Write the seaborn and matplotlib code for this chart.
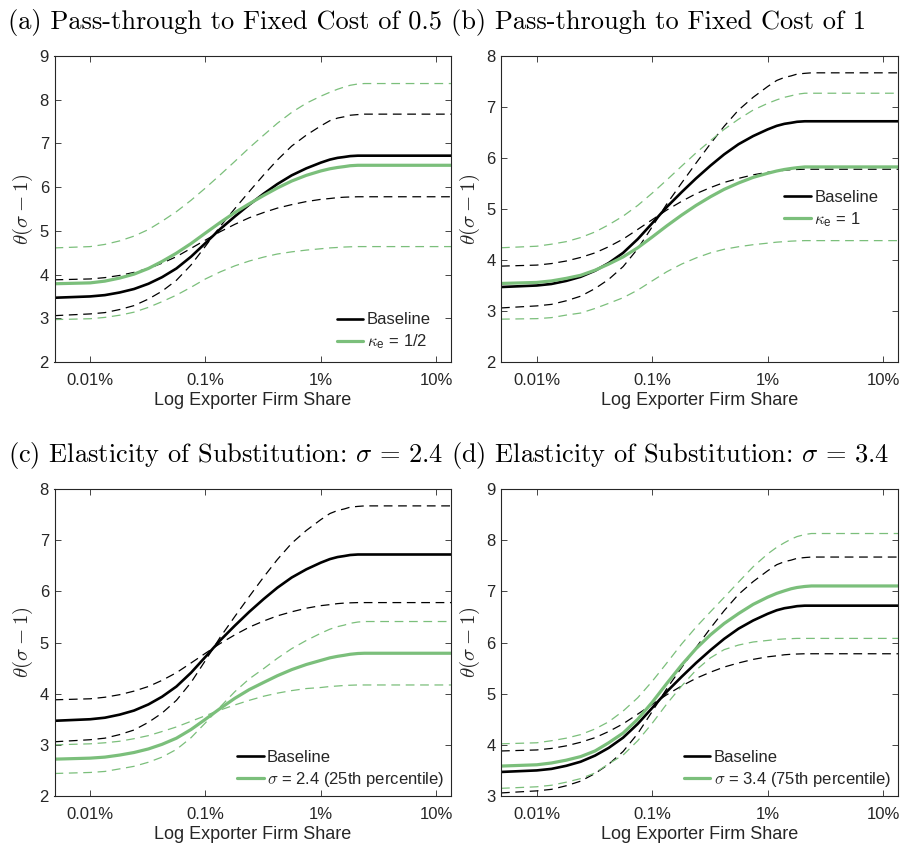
import matplotlib
matplotlib.use("Agg")
import matplotlib.pyplot as plt
from matplotlib.ticker import NullLocator
import seaborn as sns

# Exporter firm share (in percent) at which each curve is tabulated
share_pct = [0.0049, 0.01, 0.0134, 0.018, 0.024, 0.032, 0.042, 0.056, 0.075, 0.1,
             0.134, 0.18, 0.24, 0.32, 0.42, 0.56, 0.75, 1.0, 1.2, 1.4,
             1.6, 1.8, 2.1, 2.4, 13.5]

# Baseline estimate and its confidence band (identical in every panel)
baseline = [3.47, 3.50, 3.53, 3.59, 3.67, 3.79, 3.94, 4.14, 4.41, 4.72,
            5.04, 5.33, 5.60, 5.85, 6.07, 6.27, 6.43, 6.56, 6.63, 6.67,
            6.69, 6.71, 6.72, 6.72, 6.72]
baseline_band_a = [3.88, 3.90, 3.93, 3.98, 4.05, 4.14, 4.26, 4.41, 4.60, 4.79,
                   4.98, 5.15, 5.30, 5.42, 5.52, 5.60, 5.67, 5.72, 5.74, 5.76,
                   5.77, 5.775, 5.78, 5.78, 5.78]
baseline_band_b = [3.06, 3.10, 3.13, 3.20, 3.29, 3.44, 3.62, 3.87, 4.22, 4.65,
                   5.10, 5.51, 5.90, 6.28, 6.62, 6.94, 7.19, 7.40, 7.52, 7.58,
                   7.61, 7.645, 7.66, 7.67, 7.67]

# (a) pass-through to fixed cost of 0.5
kappa_half = [3.79, 3.81, 3.85, 3.92, 4.01, 4.14, 4.30, 4.49, 4.71, 4.95,
              5.19, 5.42, 5.62, 5.81, 5.98, 6.14, 6.27, 6.37, 6.42, 6.45,
              6.47, 6.49, 6.50, 6.50, 6.50]
kappa_half_hi = [4.61, 4.64, 4.69, 4.77, 4.88, 5.03, 5.22, 5.44, 5.70, 5.98,
                 6.28, 6.59, 6.90, 7.19, 7.46, 7.71, 7.92, 8.08, 8.17, 8.24,
                 8.29, 8.33, 8.36, 8.37, 8.37]
kappa_half_lo = [2.97, 2.99, 3.02, 3.07, 3.14, 3.25, 3.38, 3.53, 3.71, 3.90,
                 4.06, 4.20, 4.31, 4.40, 4.47, 4.52, 4.56, 4.59, 4.61, 4.62,
                 4.63, 4.635, 4.64, 4.64, 4.64]

# (b) pass-through to fixed cost of 1
kappa_one = [3.54, 3.56, 3.59, 3.64, 3.70, 3.80, 3.92, 4.06, 4.24, 4.45,
             4.67, 4.88, 5.07, 5.24, 5.385, 5.51, 5.62, 5.70, 5.745, 5.775,
             5.795, 5.81, 5.825, 5.825, 5.825]
kappa_one_hi = [4.24, 4.27, 4.31, 4.36, 4.44, 4.55, 4.69, 4.86, 5.07, 5.31,
                5.57, 5.84, 6.10, 6.34, 6.56, 6.76, 6.94, 7.07, 7.14, 7.19,
                7.22, 7.25, 7.27, 7.27, 7.27]
kappa_one_lo = [2.84, 2.85, 2.87, 2.92, 2.96, 3.05, 3.15, 3.26, 3.41, 3.59,
                3.77, 3.92, 4.04, 4.14, 4.21, 4.26, 4.30, 4.33, 4.35, 4.36,
                4.37, 4.375, 4.38, 4.38, 4.38]

# (c) sigma = 2.4
sigma_low = [2.72, 2.74, 2.76, 2.80, 2.85, 2.92, 3.01, 3.13, 3.30, 3.50,
             3.71, 3.91, 4.08, 4.22, 4.35, 4.47, 4.57, 4.65, 4.70, 4.73,
             4.75, 4.77, 4.785, 4.79, 4.79]
sigma_low_a = [3.00, 3.02, 3.04, 3.07, 3.12, 3.18, 3.26, 3.35, 3.46, 3.57,
               3.68, 3.78, 3.87, 3.95, 4.01, 4.06, 4.10, 4.12, 4.14, 4.15,
               4.16, 4.165, 4.17, 4.17, 4.17]
sigma_low_b = [2.44, 2.46, 2.48, 2.53, 2.58, 2.66, 2.76, 2.91, 3.14, 3.43,
               3.74, 4.04, 4.29, 4.49, 4.69, 4.88, 5.04, 5.18, 5.26, 5.31,
               5.34, 5.375, 5.40, 5.41, 5.41]

# (d) sigma = 3.4
sigma_high = [3.585, 3.61, 3.645, 3.70, 3.77, 3.88, 4.04, 4.23, 4.50, 4.83,
              5.20, 5.56, 5.88, 6.15, 6.37, 6.565, 6.745, 6.885, 6.96, 7.01,
              7.05, 7.075, 7.095, 7.105, 7.105]
sigma_high_hi = [4.02, 4.04, 4.08, 4.13, 4.20, 4.31, 4.45, 4.66, 4.92, 5.24,
                 5.60, 5.97, 6.30, 6.60, 6.88, 7.18, 7.48, 7.73, 7.86, 7.95,
                 8.02, 8.07, 8.11, 8.13, 8.13]
sigma_high_lo = [3.15, 3.18, 3.21, 3.27, 3.34, 3.45, 3.63, 3.80, 4.08, 4.42,
                 4.80, 5.15, 5.46, 5.70, 5.86, 5.95, 6.01, 6.04, 6.06, 6.07,
                 6.075, 6.08, 6.08, 6.08, 6.08]

x_ticks = [0.01, 0.1, 1, 10]
x_tick_labels = ["0.01%", "0.1%", "1%", "10%"]

titles = [
    "(a) Pass-through to Fixed Cost of 0.5",
    "(b) Pass-through to Fixed Cost of 1",
    r"(c) Elasticity of Substitution: $\sigma\, =\, 2.4$",
    r"(d) Elasticity of Substitution: $\sigma\, =\, 3.4$",
]
legend_labels = [
    r"$\kappa_\mathregular{e}$ = 1/2",
    r"$\kappa_\mathregular{e}$ = 1",
    r"$\sigma$ = 2.4 (25th percentile)",
    r"$\sigma$ = 3.4 (75th percentile)",
]
alt_series = [
    (kappa_half, kappa_half_hi, kappa_half_lo),
    (kappa_one, kappa_one_hi, kappa_one_lo),
    (sigma_low, sigma_low_a, sigma_low_b),
    (sigma_high, sigma_high_hi, sigma_high_lo),
]
y_limits = [(2, 9), (2, 8), (2, 8), (3, 9)]

sns.set_style("ticks")
plt.rcParams["font.family"] = ["Liberation Sans", "DejaVu Sans"]
plt.rcParams["mathtext.fontset"] = "cm"

BLACK = "#000000"
GREEN = "#7bbf7b"
AXIS = "#262626"
DASH = (0, (7, 4.5))

fig = plt.figure(figsize=(9.0, 8.46), dpi=100)
W, H = 900.0, 846.0
boxes = [
    (54.5, 56, 451, 362),
    (501, 56, 898, 362),
    (54.5, 489, 451, 796),
    (501, 489, 898, 796),
]
legend_anchor = [(0.712, 0.162), (0.714, 0.562), (0.460, 0.150), (0.460, 0.150)]
title_pos = [(8, 22), (451, 22), (8, 455), (451, 455)]

for i, (l, t, r, b) in enumerate(boxes):
    ax = fig.add_axes([l / W, 1 - b / H, (r - l) / W, (b - t) / H])
    ax.set_xscale("log")
    solid, band1, band2 = alt_series[i]

    for band in (baseline_band_a, baseline_band_b):
        sns.lineplot(x=share_pct, y=band, ax=ax, color=BLACK, lw=0.9, linestyle=DASH)
    for band in (band1, band2):
        sns.lineplot(x=share_pct, y=band, ax=ax, color=GREEN, lw=0.9, linestyle=DASH)
    sns.lineplot(x=share_pct, y=baseline, ax=ax, color=BLACK, lw=1.9, label="Baseline")
    sns.lineplot(x=share_pct, y=solid, ax=ax, color=GREEN, lw=2.3, label=legend_labels[i])

    ax.set_xlim(0.0049, 13.5)
    ax.set_ylim(*y_limits[i])
    ax.set_xticks(x_ticks)
    ax.set_xticklabels(x_tick_labels)
    ax.xaxis.set_minor_locator(NullLocator())
    ax.set_yticks(range(y_limits[i][0], y_limits[i][1] + 1))
    ax.tick_params(direction="in", top=True, right=True, length=4, width=0.6,
                   labelsize=12, colors=AXIS)
    ax.tick_params(axis="x", pad=8)
    ax.tick_params(axis="y", pad=4)
    for s in ax.spines.values():
        s.set_color(AXIS)
        s.set_linewidth(0.8)

    ax.set_xlabel("Log Exporter Firm Share", fontsize=13, color=AXIS, labelpad=3)
    ax.set_ylabel(r"$\theta(\sigma-1)$", fontsize=15, color=AXIS, labelpad=3)

    h, lab = ax.get_legend_handles_labels()
    ax.legend(h, lab, loc="upper left", bbox_to_anchor=legend_anchor[i],
              frameon=False, fontsize=12, handlelength=1.6, handletextpad=0.2,
              labelspacing=0.3, borderaxespad=0, borderpad=0)

    tx, ty = title_pos[i]
    fig.text(tx / W, 1 - ty / H, titles[i], fontfamily="cmr10", fontsize=19,
             va="center", ha="left", color="black")

fig.savefig("out.png", dpi=100)
